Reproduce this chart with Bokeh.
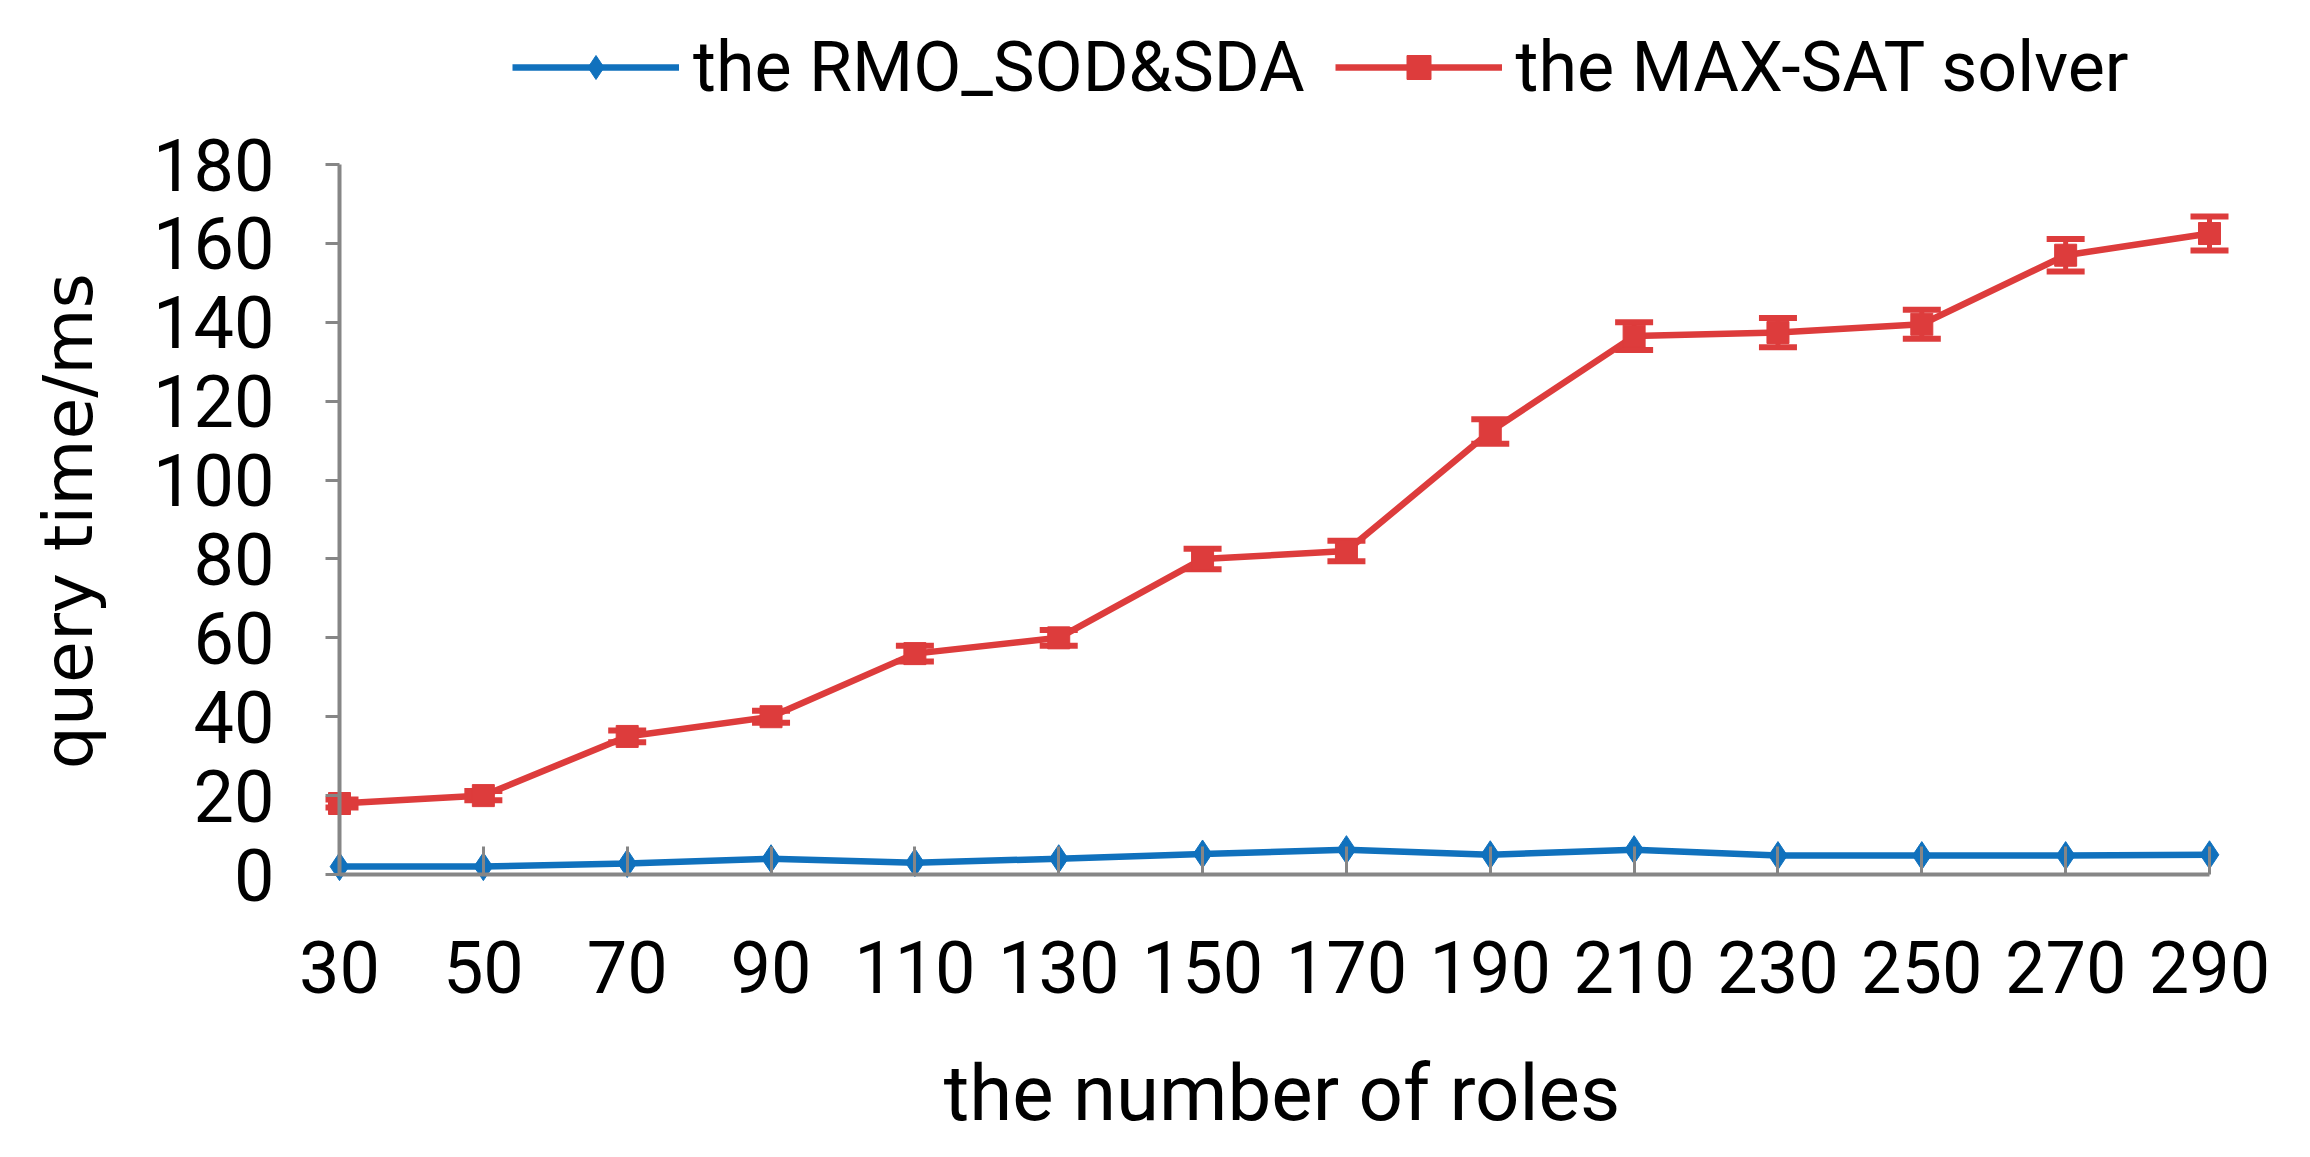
from bokeh.plotting import figure
from bokeh.models import (Range1d, FixedTicker, Legend, LegendItem, Whisker,
                          ColumnDataSource, TeeHead, LinearAxis)
from bokeh.embed import file_html
from bokeh.resources import INLINE

# ---- data ----
roles = [30, 50, 70, 90, 110, 130, 150, 170, 190, 210, 230, 250, 270, 290]
rmo_sod_sda = [2.0, 2.0, 2.8, 4.0, 3.0, 4.0, 5.2, 6.3, 5.0, 6.3, 4.8, 4.8, 4.8, 5.0]
max_sat = [18.0, 20.0, 35.0, 40.0, 56.0, 60.0, 80.0, 82.0, 112.3, 136.5, 137.4, 139.5, 157.0, 162.5]
max_sat_err = [1.0, 1.2, 1.5, 1.5, 2.0, 2.0, 2.6, 2.6, 3.1, 3.5, 3.7, 3.7, 4.1, 4.3]
y_ticks = [0, 20, 40, 60, 80, 100, 120, 140, 160, 180]
series_names = ["the RMO_SOD&SDA", "the MAX-SAT solver"]
x_title = "the number of roles"
y_title = "query time/ms"

BLUE = "#1071BD"
RED = "#DD3C3C"
GRAY = "#868686"

# ---- layout (pixels in figure coordinates) ----
W, H = 2290, 1141
FL, FR = 325, 2238          # frame left/right
FT, FB = 0, 890             # frame top/bottom
X0PX, X1PX = 339, 2209      # where x=30 and x=290 fall
Y0PX, Y1PX = 874, 164       # where y=0 and y=180 fall
ppx = (X1PX - X0PX) / (roles[-1] - roles[0])
ppy = (Y0PX - Y1PX) / (y_ticks[-1] - y_ticks[0])
x_start = roles[0] - (X0PX - FL) / ppx
x_end = roles[-1] + (FR - X1PX) / ppx
y_start = y_ticks[0] - (FB - Y0PX) / ppy
y_end = y_ticks[-1] + (Y1PX - FT) / ppy

p = figure(width=W, height=H, x_range=Range1d(x_start, x_end),
           y_range=Range1d(y_start, y_end), output_backend="svg",
           toolbar_location=None, min_border_left=FL, min_border_right=W - FR,
           min_border_top=FT, min_border_bottom=H - FB)
p.outline_line_color = None
p.xgrid.visible = False
p.ygrid.visible = False
p.background_fill_color = "white"
p.border_fill_color = "white"

# ---- label axes (at frame edges, no line / ticks) ----
xa = p.xaxis[0]
xa.ticker = FixedTicker(ticks=roles)
xa.axis_line_color = None
xa.major_tick_line_color = None
xa.major_tick_in = 0
xa.major_tick_out = 0
xa.minor_tick_line_color = None
xa.major_label_text_font = "Roboto"
xa.major_label_text_font_size = "72px"
xa.major_label_text_color = "black"
xa.major_label_standoff = 50
xa.axis_label = x_title
xa.axis_label_text_font = "Roboto"
xa.axis_label_text_font_size = "78px"
xa.axis_label_text_font_style = "normal"
xa.axis_label_text_color = "black"
xa.axis_label_standoff = 52

ya = p.yaxis[0]
ya.ticker = FixedTicker(ticks=y_ticks)
ya.axis_line_color = None
ya.major_tick_line_color = None
ya.major_tick_in = 0
ya.major_tick_out = 0
ya.minor_tick_line_color = None
ya.major_label_text_font = "Roboto"
ya.major_label_text_font_size = "72px"
ya.major_label_text_color = "black"
ya.major_label_standoff = 51
# trailing no-break spaces shift the (frame-centred) title down to the axis centre
ya.axis_label = y_title + "\u00a0" * 7
ya.axis_label_text_font = "DejaVu Sans"
ya.axis_label_text_font_size = "68px"
ya.axis_label_text_font_style = "normal"
ya.axis_label_text_color = "black"
ya.axis_label_standoff = 42

# ---- line axes (placed at x=30 / y=0 in data space) ----
xa_line = LinearAxis(fixed_location=y_ticks[0], ticker=FixedTicker(ticks=roles),
                     bounds=(roles[0], roles[-1]),
                     axis_line_color=GRAY, axis_line_width=4,
                     major_tick_line_color=GRAY, major_tick_line_width=3,
                     major_tick_in=28, major_tick_out=0,
                     minor_tick_line_color=None,
                     major_label_overrides={float(t): "" for t in roles},
                     major_label_text_font_size="1px", major_label_standoff=0)
p.add_layout(xa_line, "below")

ya_line = LinearAxis(fixed_location=roles[0], ticker=FixedTicker(ticks=y_ticks),
                     bounds=(y_ticks[0], y_ticks[-1]),
                     axis_line_color=GRAY, axis_line_width=4,
                     major_tick_line_color=GRAY, major_tick_line_width=3,
                     major_tick_in=22, major_tick_out=0,
                     minor_tick_line_color=None,
                     major_label_overrides={float(t): "" for t in y_ticks},
                     major_label_text_font_size="1px", major_label_standoff=0)
p.add_layout(ya_line, "right")

# ---- series ----
src = ColumnDataSource(dict(
    x=roles, rmo=rmo_sod_sda, ms=max_sat,
    upper=[v + e for v, e in zip(max_sat, max_sat_err)],
    lower=[v - e for v, e in zip(max_sat, max_sat_err)],
))

bl = p.line("x", "rmo", source=src, line_color=BLUE, line_width=6.5)
bs = p.scatter("x", "rmo", source=src, marker="diamond", size=28,
               fill_color=BLUE, line_color=BLUE)

whisk = Whisker(base="x", upper="upper", lower="lower", source=src,
                line_color=RED, line_width=5,
                upper_head=TeeHead(size=38, line_color=RED, line_width=6),
                lower_head=TeeHead(size=38, line_color=RED, line_width=6))
p.add_layout(whisk)

rl = p.line("x", "ms", source=src, line_color=RED, line_width=6.5)
rs = p.scatter("x", "ms", source=src, marker="square", size=22,
               fill_color=RED, line_color=RED)

legend = Legend(items=[LegendItem(label=series_names[0], renderers=[bl, bs]),
                       LegendItem(label=series_names[1], renderers=[rl, rs])],
                orientation="horizontal", location=(187, 782),
                glyph_width=167, glyph_height=60, label_standoff=14,
                spacing=30, padding=0, margin=0,
                border_line_color=None, background_fill_alpha=0,
                label_text_font="Roboto", label_text_font_size="70px",
                label_text_color="black")
p.add_layout(legend)

open("out.html", "w").write(file_html(p, INLINE))
